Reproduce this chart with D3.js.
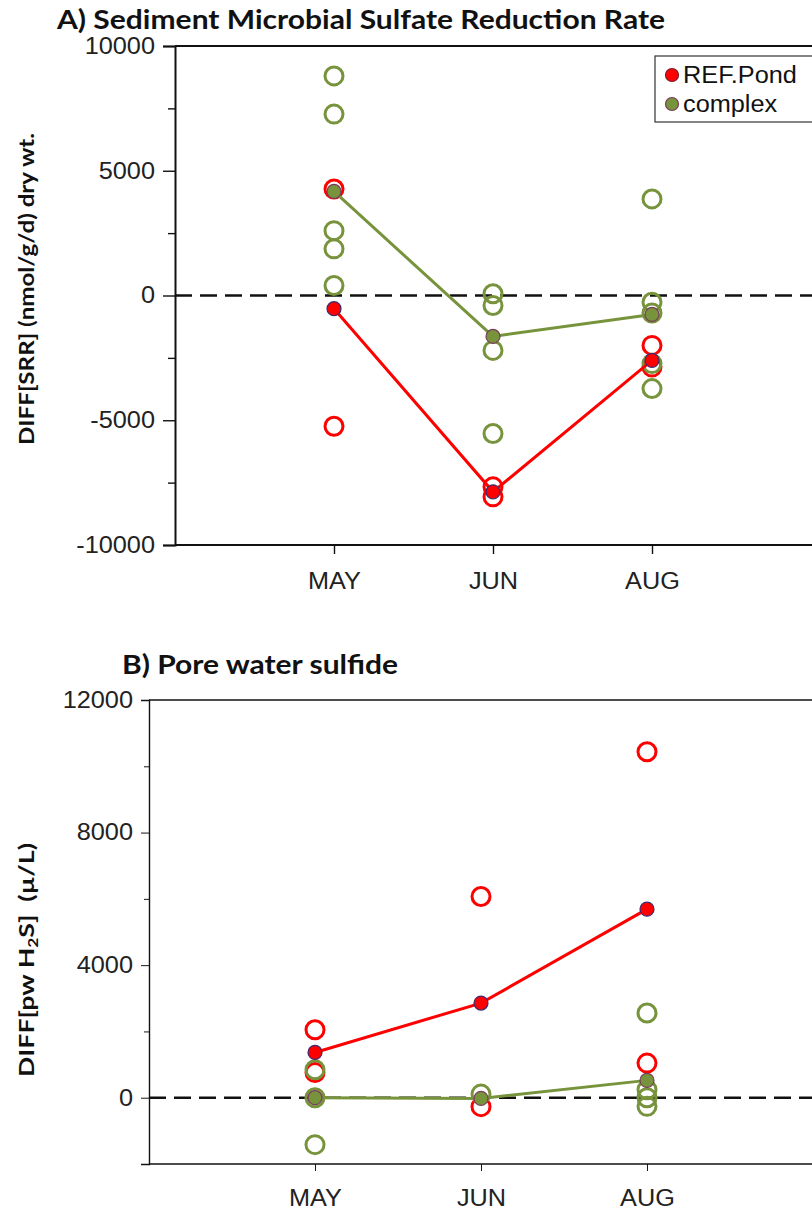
<!DOCTYPE html>
<html>
<head>
<meta charset="utf-8">
<script src="https://cdn.jsdelivr.net/npm/d3@7"></script>
<style>
  html, body { margin: 0; padding: 0; background: #fff; }
  svg { display: block; }
</style>
</head>
<body>
<svg id="chart" width="812" height="1211"></svg>
<script>
// ---------------- DATA ----------------
const months = ["MAY", "JUN", "AUG"];

// Panel A: sediment microbial sulfate reduction rate (individual replicates + means)
const srrRef = [[4270, -5240], [-7670, -8070], [-2000, -2870]];
const srrRefMean = [-530, -7870, -2600];
const srrCpx = [[8800, 7270, 2600, 1870, 400], [70, -400, -2200, -5530], [3870, -270, -700, -2730, -3730]];
const srrCpxMean = [4170, -1640, -760];
const srrTicks = [-10000, -5000, 0, 5000, 10000];
const srrMinor = [-7500, -2500, 2500, 7500];

// Panel B: pore water sulfide
const h2sRef = [[2050, 760], [6070, -270], [10440, 1045]];
const h2sRefMean = [1366, 2855, 5690];
const h2sCpx = [[844, 0, -1417], [110], [2555, 240, 0, -260]];
const h2sCpxMean = [0, -20, 523];
const h2sTicks = [0, 4000, 8000, 12000];
const h2sMinor = [-2000, 2000, 6000, 10000];

const legendNames = ["REF.Pond", "complex"];

// ---------------- STYLE ----------------
const RED = "#FF0000", GREEN = "#77933C";
const REDMEAN_STROKE = "#3c2a6e", GREENMEAN_STROKE = "#7a3b5c";
const tickFont = "'Liberation Sans', Arial, sans-serif";
const boldFont = "Lato, 'Open Sans', sans-serif";
const fmt = d => String(d); // plain hyphen-minus like the original

const svg = d3.select("#chart");

function stretch(sel, factor) {
  sel.each(function () {
    const len = this.getComputedTextLength();
    d3.select(this).attr("textLength", len * factor).attr("lengthAdjust", "spacingAndGlyphs");
  });
}

function panel(cfg) {
  const g = svg.append("g");
  const x = d3.scaleLinear().domain([0, 4]).range([cfg.left, cfg.left + 4 * cfg.step]);
  const y = d3.scaleLinear().domain(cfg.domain).range([cfg.bottom, cfg.top]);

  // top border
  g.append("line").attr("x1", cfg.left).attr("x2", 812).attr("y1", y(cfg.domain[1])).attr("y2", y(cfg.domain[1]))
    .attr("stroke", "#111").attr("stroke-width", cfg.axisW);

  // y axis
  const yAxis = d3.axisLeft(y).tickValues(cfg.ticks).tickSize(cfg.majorTick).tickPadding(cfg.yPad).tickFormat(fmt);
  const ya = g.append("g").attr("transform", `translate(${cfg.left},0)`).call(yAxis);
  ya.select(".domain").attr("stroke", "#111").attr("stroke-width", cfg.axisW);
  ya.selectAll(".tick line").attr("stroke", "#111").attr("stroke-width", cfg.axisW * 0.7);
  const yt = ya.selectAll(".tick text").attr("font-family", tickFont).attr("font-size", cfg.tickSize).attr("fill", "#222");
  stretch(yt, 1.1);
  const ym = d3.axisLeft(y).tickValues(cfg.minor).tickSize(cfg.minorTick).tickFormat("");
  const yma = g.append("g").attr("transform", `translate(${cfg.left},0)`).call(ym);
  yma.select(".domain").remove();
  yma.selectAll(".tick line").attr("stroke", "#111").attr("stroke-width", cfg.axisW * 0.7);

  // x axis
  const xAxis = d3.axisBottom(x).tickValues([1, 2, 3]).tickSize(cfg.xTick).tickPadding(cfg.xPad)
    .tickFormat(i => months[i - 1]);
  const xa = g.append("g").attr("transform", `translate(0,${cfg.bottom})`).call(xAxis);
  xa.select(".domain").attr("d", `M${cfg.left},0H812`).attr("stroke", "#111").attr("stroke-width", cfg.axisW);
  xa.selectAll(".tick line").attr("stroke", "#111").attr("stroke-width", cfg.axisW * 0.7);
  const xt = xa.selectAll(".tick text").attr("font-family", tickFont).attr("font-size", cfg.tickSize).attr("fill", "#222");
  stretch(xt, 1.1);

  // zero dashed line
  g.append("line").attr("x1", cfg.left).attr("x2", 812).attr("y1", y(0)).attr("y2", y(0))
    .attr("stroke", "#111").attr("stroke-width", 2.5).attr("stroke-dasharray", "17,8");

  // replicate open circles: ref first, then complex
  const flat = (arr) => arr.flatMap((vals, i) => vals.map(v => ({ i: i + 1, v })));
  g.selectAll(".refpt").data(flat(cfg.ref)).join("circle").attr("class", "refpt")
    .attr("cx", d => x(d.i)).attr("cy", d => y(d.v)).attr("r", 9)
    .attr("fill", "none").attr("stroke", RED).attr("stroke-width", 3);
  g.selectAll(".cpxpt").data(flat(cfg.cpx)).join("circle").attr("class", "cpxpt")
    .attr("cx", d => x(d.i)).attr("cy", d => y(d.v)).attr("r", 9)
    .attr("fill", "none").attr("stroke", GREEN).attr("stroke-width", 3);

  // mean lines
  const line = d3.line().x((d, i) => x(i + 1)).y(d => y(d));
  g.append("path").datum(cfg.refMean).attr("d", line).attr("fill", "none").attr("stroke", RED).attr("stroke-width", 3);
  g.append("path").datum(cfg.cpxMean).attr("d", line).attr("fill", "none").attr("stroke", GREEN).attr("stroke-width", 3);

  // mean markers
  g.selectAll(".refmean").data(cfg.refMean).join("circle").attr("class", "refmean")
    .attr("cx", (d, i) => x(i + 1)).attr("cy", d => y(d)).attr("r", 7)
    .attr("fill", RED).attr("stroke", REDMEAN_STROKE).attr("stroke-width", 1.2);
  g.selectAll(".cpxmean").data(cfg.cpxMean).join("circle").attr("class", "cpxmean")
    .attr("cx", (d, i) => x(i + 1)).attr("cy", d => y(d)).attr("r", 7)
    .attr("fill", GREEN).attr("stroke", GREENMEAN_STROKE).attr("stroke-width", 1.2);

  // title
  g.append("text").attr("x", cfg.titleX).attr("y", cfg.titleY).attr("font-family", boldFont)
    .attr("font-weight", "bold").attr("font-size", 27).attr("fill", "#111")
    .attr("textLength", cfg.titleLen).attr("lengthAdjust", "spacingAndGlyphs").text(cfg.title);

  return { g, x, y };
}

// Panel A
const A = panel({
  left: 175, step: 159, top: 46, bottom: 545, domain: [-10000, 10000],
  ticks: srrTicks, minor: srrMinor, majorTick: 12, minorTick: 7, yPad: 8, xTick: 9, xPad: 19,
  axisW: 2, tickSize: 23,
  ref: srrRef, refMean: srrRefMean, cpx: srrCpx, cpxMean: srrCpxMean,
  title: "A) Sediment Microbial Sulfate Reduction Rate", titleX: 57, titleY: 29, titleLen: 608
});
// y label A
svg.append("text").attr("transform", "translate(34,289) rotate(-90)").attr("text-anchor", "middle")
  .attr("font-family", boldFont).attr("font-weight", "bold").attr("font-size", 20).attr("fill", "#111")
  .attr("textLength", 312).attr("lengthAdjust", "spacingAndGlyphs")
  .text("DIFF[SRR] (nmol/g/d) dry wt.");

// Legend (panel A)
const lg = svg.append("g");
lg.append("rect").attr("x", 655).attr("y", 56).attr("width", 200).attr("height", 66)
  .attr("fill", "#fff").attr("stroke", "#333").attr("stroke-width", 1.2);
const legCol = [[RED, "#7a1a2a"], [GREEN, GREENMEAN_STROKE]];
legendNames.forEach((n, i) => {
  const cy = 75 + i * 29;
  lg.append("circle").attr("cx", 672).attr("cy", cy).attr("r", 6.5)
    .attr("fill", legCol[i][0]).attr("stroke", legCol[i][1]).attr("stroke-width", 1.2);
  const t = lg.append("text").attr("x", 683).attr("y", cy + 8).attr("font-family", tickFont)
    .attr("font-size", 23).attr("fill", "#111").text(n);
  stretch(t, 1.1);
});

// Panel B
const B = panel({
  left: 149, step: 166, top: 700, bottom: 1164, domain: [-2000, 12000],
  ticks: h2sTicks, minor: h2sMinor, majorTick: 8, minorTick: 5, yPad: 8, xTick: 7, xPad: 19,
  axisW: 1.4, tickSize: 23,
  ref: h2sRef, refMean: h2sRefMean, cpx: h2sCpx, cpxMean: h2sCpxMean,
  title: "B) Pore water sulfide", titleX: 122, titleY: 674, titleLen: 276
});
// y label B
const yl = svg.append("text").attr("transform", "translate(34,960) rotate(-90)").attr("text-anchor", "middle")
  .attr("font-family", boldFont).attr("font-weight", "bold").attr("font-size", 20).attr("fill", "#111")
  .attr("textLength", 234).attr("lengthAdjust", "spacingAndGlyphs");
yl.append("tspan").text("DIFF[pw H");
yl.append("tspan").attr("font-size", 13).attr("dy", 4).text("2");
yl.append("tspan").attr("dy", -4).text("S]\u00a0\u00a0(µ/L)");
</script>
</body>
</html>
